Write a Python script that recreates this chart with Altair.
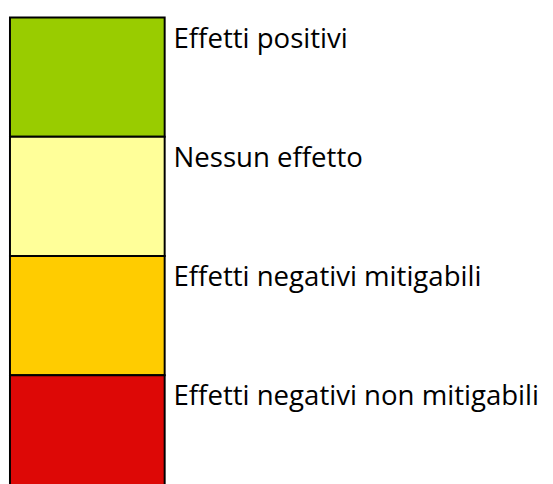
import altair as alt
import pandas as pd

categories = ["Effetti positivi", "Nessun effetto", "Effetti negativi mitigabili", "Effetti negativi non mitigabili"]
colors = ["#99CC00", "#FFFF99", "#FFCC00", "#DD0806"]

df = pd.DataFrame({"cat": categories})

y_enc = alt.Y("cat:N", sort=categories, axis=None,
              scale=alt.Scale(paddingInner=0, paddingOuter=0))

rects = alt.Chart(df).mark_rect(stroke="black", strokeWidth=2).encode(
    y=y_enc,
    x=alt.value(0),
    x2=alt.value(157),
    color=alt.Color("cat:N", scale=alt.Scale(domain=categories, range=colors), legend=None),
)

texts = alt.Chart(df).mark_text(
    align="left", baseline="alphabetic", dy=-30, font="Open Sans", fontSize=28, color="black"
).encode(
    y=y_enc,
    x=alt.value(166),
    text="cat:N",
)

chart = alt.layer(rects, texts).properties(
    width=543, height=484,
    padding={"left": 2, "top": 6, "right": 0, "bottom": 0},
    autosize=alt.AutoSizeParams(type="none"),
).configure_view(stroke=None)

chart.save("out.html", embed_options={"renderer": "svg", "actions": False})
